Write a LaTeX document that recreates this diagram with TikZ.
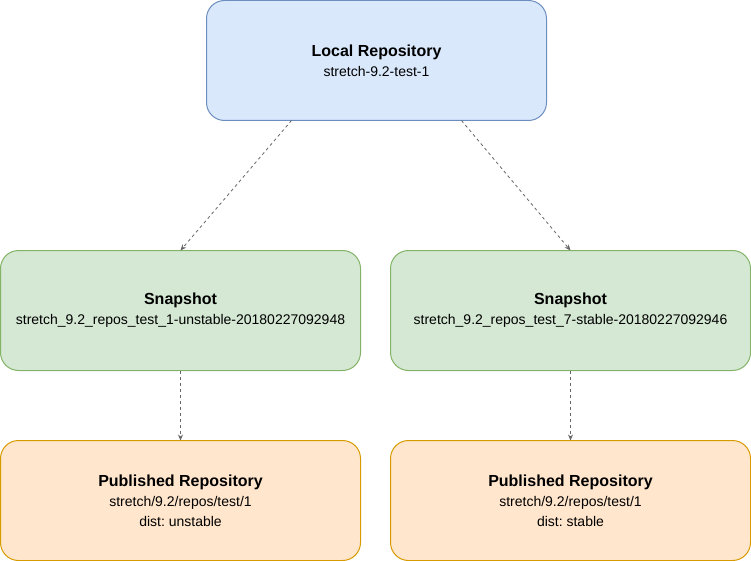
\documentclass[tikz,border=0pt]{standalone}
\usepackage{fontspec}
\setmainfont{Liberation Sans}
\usetikzlibrary{arrows.meta}
\definecolor{blueF}{HTML}{DAE8FC}
\definecolor{blueD}{HTML}{6C8EBF}
\definecolor{greenF}{HTML}{D5E8D4}
\definecolor{greenD}{HTML}{82B366}
\definecolor{orangeF}{HTML}{FFE6CC}
\definecolor{orangeD}{HTML}{D79B00}
\definecolor{lineC}{HTML}{666666}
\newcommand{\ttl}[1]{{\fontsize{16pt}{20pt}\selectfont\bfseries #1}}
\frenchspacing

\begin{document}
\begin{tikzpicture}[x=1pt,y=-1pt,
	box/.style={rounded corners=18pt,minimum width=340pt,minimum height=120pt,inner sep=0pt,outer sep=0pt,align=center,line width=1pt,font=\fontsize{14pt}{20pt}\selectfont},
	link/.style={lineC,dashed,dash pattern=on 3pt off 3pt,line width=0.8pt,-{Stealth[length=6pt,width=5pt]}}]
		\useasboundingbox (0,0) rectangle (751,561);
		\node[box,fill=blueF,draw=blueD] (local) at (376.5,60.5) {\ttl{Local Repository}\\stretch-9.2-test-1};
		\node[box,fill=greenF,draw=greenD,minimum width=360pt] (snapA) at (180.5,310.5) {\ttl{Snapshot}\\stretch\_9.2\_repos\_test\_1-unstable-20180227092948};
		\node[box,fill=greenF,draw=greenD,minimum width=360pt] (snapB) at (570.5,310.5) {\ttl{Snapshot}\\stretch\_9.2\_repos\_test\_7-stable-20180227092946};
		\node[box,fill=orangeF,draw=orangeD,minimum width=360pt] (pubA) at (180.5,500.5) {\ttl{Published Repository}\\stretch/9.2/repos/test/1\\dist: unstable};
		\node[box,fill=orangeF,draw=orangeD,minimum width=360pt] (pubB) at (570.5,500.5) {\ttl{Published Repository}\\stretch/9.2/repos/test/1\\dist: stable};
		% links
		\draw[link] ([xshift=-85pt]local.south) -- (snapA.north);
		\draw[link] ([xshift=85pt]local.south) -- (snapB.north);
		\draw[link] (snapA) -- (pubA);
		\draw[link] (snapB) -- (pubB);
\end{tikzpicture}
\end{document}
